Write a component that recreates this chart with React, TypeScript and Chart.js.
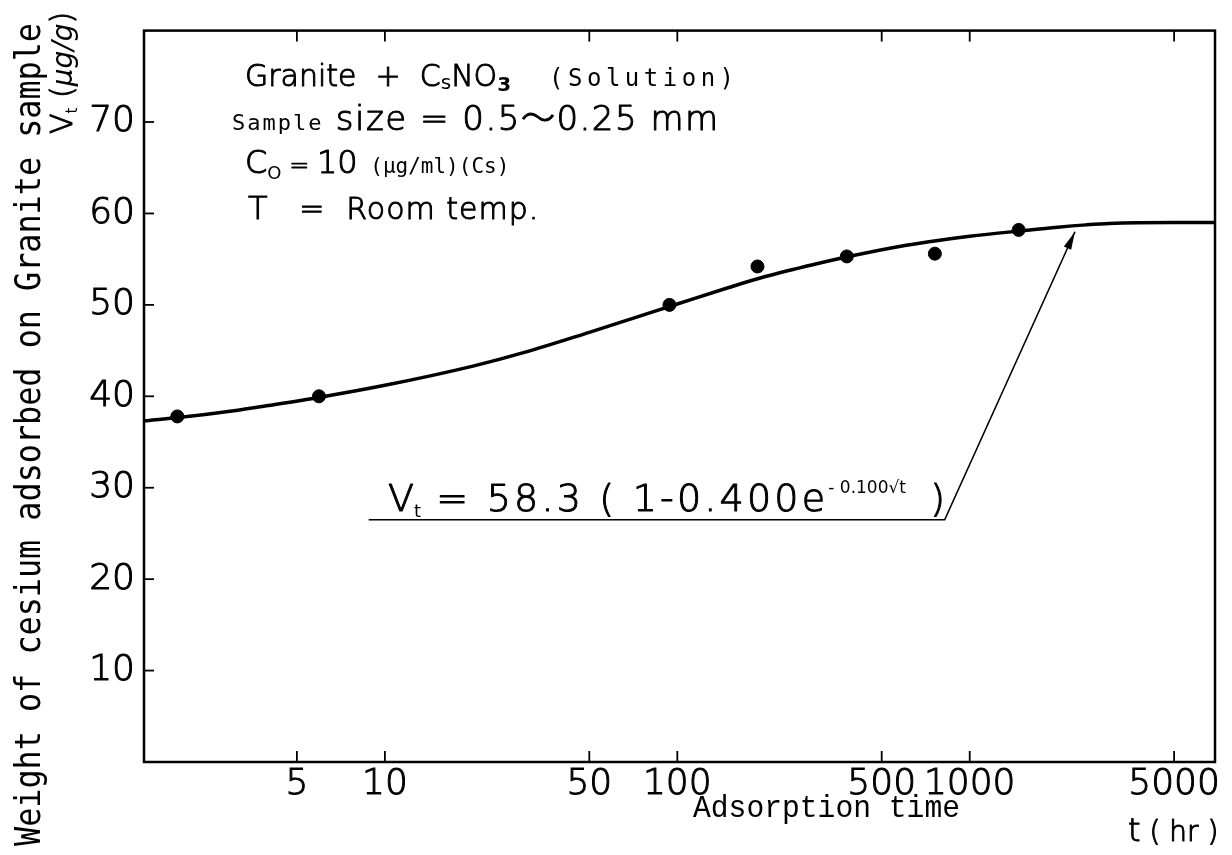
import React, { useEffect, useRef } from "react";
import { Chart, registerables } from "chart.js";
Chart.register(...registerables);

// measured samples (adsorption time in hr, weight in µg/g)
const sampleTimes = [1.95, 5.95, 94, 188, 380, 760, 1470];
const sampleValues = [37.8, 40.0, 50.0, 54.2, 55.3, 55.6, 58.2];

// fitted curve
const curveTimes = [1.5, 2, 3, 4, 6, 10, 20, 30, 50, 70, 100, 150, 200, 300, 400, 600, 800, 1000, 1500, 2000, 2500, 3000, 5000, 6900];
const curveValues = [37.3, 37.7, 38.4, 39.0, 39.9, 41.2, 43.3, 44.8, 47.0, 48.5, 50.1, 51.9, 53.1, 54.5, 55.4, 56.5, 57.1, 57.5, 58.1, 58.5, 58.75, 58.9, 59.0, 59.0];

// leader line from the equation to the curve
const leaderTimes = [8.8, 821, 2290];
const leaderValues = [26.5, 26.5, 58.0];

const xTickValues = [5, 10, 50, 100, 500, 1000, 5000];
const yTickValues = [10, 20, 30, 40, 50, 60, 70];

const X_MIN = 1.5;
const X_MAX = 6900;
const Y_MIN = 0;
const Y_MAX = 80;

const SANS = '"DejaVu Sans", "Noto Sans CJK JP", sans-serif';
const MONO = '"DejaVu Sans Mono", monospace';
const COURIER = '"Liberation Mono", monospace';

type Run = { t: string; f: string; dy?: number; ls?: number; sw?: number };

function drawRuns(ctx: CanvasRenderingContext2D, x: number, y: number, runs: Run[]) {
  let cx = x;
  for (const r of runs) {
    ctx.font = r.f;
    (ctx as any).letterSpacing = (r.ls ?? 0) + "px";
    ctx.fillText(r.t, cx, y + (r.dy ?? 0));
    if (r.sw) {
      ctx.lineWidth = r.sw;
      ctx.strokeText(r.t, cx, y + (r.dy ?? 0));
    }
    cx += ctx.measureText(r.t).width;
  }
  (ctx as any).letterSpacing = "0px";
  return cx;
}

function drawFit(ctx: CanvasRenderingContext2D, text: string, font: string, x: number, y: number, width: number) {
  ctx.font = font;
  const w = ctx.measureText(text).width;
  ctx.save();
  ctx.translate(x, y);
  ctx.scale(width / w, 1);
  ctx.fillText(text, 0, 0);
  ctx.restore();
}

const decor = {
  id: "decor",
  afterDraw(chart: any) {
    const { ctx, chartArea: a, scales } = chart;
    const xs = scales.x;
    const ys = scales.y;
    ctx.save();
    ctx.strokeStyle = "#000";
    ctx.fillStyle = "#000";
    ctx.lineCap = "butt";
    // frame
    ctx.lineWidth = 2.5;
    ctx.strokeRect(a.left, a.top, a.right - a.left, a.bottom - a.top);
    // inward tick marks
    ctx.lineWidth = 1.8;
    const seg = (x1: number, y1: number, x2: number, y2: number) => {
      ctx.beginPath();
      ctx.moveTo(x1, y1);
      ctx.lineTo(x2, y2);
      ctx.stroke();
    };
    for (const v of xTickValues) {
      const px = xs.getPixelForValue(v);
      seg(px, a.bottom, px, a.bottom - 11);
      seg(px, a.top, px, a.top + 11);
    }
    for (const v of yTickValues) {
      const py = ys.getPixelForValue(v);
      seg(a.left, py, a.left + 10, py);
    }

    // arrow head at the end of the leader line
    const meta = chart.getDatasetMeta(2);
    const pts = meta.data;
    if (pts.length >= 2) {
      const p1 = pts[pts.length - 2];
      const p2 = pts[pts.length - 1];
      const ang = Math.atan2(p2.y - p1.y, p2.x - p1.x);
      const L = 18;
      const W = 4;
      ctx.beginPath();
      ctx.moveTo(p2.x, p2.y);
      ctx.lineTo(p2.x - L * Math.cos(ang) + W * Math.sin(ang), p2.y - L * Math.sin(ang) - W * Math.cos(ang));
      ctx.lineTo(p2.x - L * Math.cos(ang) - W * Math.sin(ang), p2.y - L * Math.sin(ang) + W * Math.cos(ang));
      ctx.closePath();
      ctx.fill();
    }

    ctx.textBaseline = "alphabetic";
    ctx.textAlign = "left";
    ctx.lineJoin = "round";

    const L = (s: number) => `200 ${s}px ${SANS}`;
    const M = (s: number) => `400 ${s}px ${MONO}`;

    // annotation block
    drawRuns(ctx, 245, 86, [
      { t: "Granite  +  C", f: L(30), sw: 1 },
      { t: "s", f: `400 20px ${SANS}`, dy: 3 },
      { t: "NO", f: L(30), sw: 1 },
      { t: "3", f: `700 20px ${SANS}`, dy: 5 },
      { t: "  (Solution)", f: M(24), ls: 4.5 },
    ]);
    drawRuns(ctx, 232, 130, [
      { t: "Sample", f: M(22), ls: 2 },
      { t: " size = 0.5〜0.25 mm", f: L(34), ls: 1.5, sw: 1 },
    ]);
    drawRuns(ctx, 245, 173, [
      { t: "C", f: L(32), sw: 1 },
      { t: "O", f: `400 18px ${SANS}`, dy: 6 },
      { t: " = ", f: L(24), sw: 0.8 },
      { t: "10", f: L(32), sw: 1 },
      { t: " (\u00b5g/ml)(Cs)", f: M(21), ls: 0 },
    ]);
    drawRuns(ctx, 248, 219, [
      { t: "T", f: L(32), sw: 1 },
      { t: "   =  Room temp.", f: L(30), ls: 1, sw: 1 },
    ]);

    // equation
    drawRuns(ctx, 388, 511, [
      { t: "V", f: L(38), sw: 1 },
      { t: "t", f: `400 18px ${SANS}`, dy: 6 },
      { t: " = 58.3 ( 1-0.400e", f: L(38), ls: 3.2, sw: 1 },
      { t: "- 0.100\u221at", f: `400 17px ${SANS}`, dy: -18 },
      { t: "  )", f: L(38), sw: 1 },
    ]);

    // y axis titles
    ctx.save();
    ctx.translate(40, 846);
    ctx.rotate(-Math.PI / 2);
    drawFit(ctx, "Weight of cesium adsorbed on Granite sample", M(36), 0, 0, 823);
    ctx.restore();

    ctx.save();
    ctx.translate(72, 134);
    ctx.rotate(-Math.PI / 2);
    drawRuns(ctx, 0, 0, [
      { t: "V", f: L(30), sw: 1 },
      { t: "t", f: `400 15px ${SANS}`, dy: 5 },
      { t: " (", f: L(30), sw: 1 },
      { t: "\u00b5g/g", f: `italic 400 28px ${SANS}` },
      { t: ")", f: L(30), sw: 1 },
    ]);
    ctx.restore();

    // x axis titles
    drawFit(ctx, "Adsorption time", `400 32px ${COURIER}`, 693, 817, 267);
    drawRuns(ctx, 1128, 841, [
      { t: "t", f: L(32), sw: 1 },
      { t: " ( hr )", f: L(28), sw: 1 },
    ]);

    ctx.restore();
  },
};

export default function App() {
  const ref = useRef<HTMLCanvasElement>(null);
  useEffect(() => {
    document.body.style.margin = "0";
    const chart = new Chart(ref.current!, {
      type: "scatter",
      data: {
        datasets: [
          {
            label: "Measured",
            data: sampleTimes.map((t, i) => ({ x: t, y: sampleValues[i] })),
            pointRadius: 6.5,
            pointBackgroundColor: "#000",
            pointBorderColor: "#000",
            showLine: false,
            order: 0,
          },
          {
            label: "Fit",
            data: curveTimes.map((t, i) => ({ x: t, y: curveValues[i] })),
            showLine: true,
            borderColor: "#000",
            borderWidth: 3.5,
            pointRadius: 0,
            cubicInterpolationMode: "monotone",
            order: 1,
          },
          {
            label: "Leader",
            data: leaderTimes.map((t, i) => ({ x: t, y: leaderValues[i] })),
            showLine: true,
            borderColor: "#000",
            borderWidth: 1.6,
            pointRadius: 0,
            tension: 0,
            order: 2,
          },
        ],
      },
      options: {
        animation: false,
        responsive: true,
        maintainAspectRatio: false,
        layout: { padding: { left: 0, top: 22, right: 17, bottom: 0 } },
        plugins: { legend: { display: false }, tooltip: { enabled: false } },
        scales: {
          x: {
            type: "logarithmic",
            min: X_MIN,
            max: X_MAX,
            grid: { display: false, drawTicks: false },
            border: { display: false },
            afterBuildTicks: (s: any) => {
              s.ticks = xTickValues.map((v) => ({ value: v }));
            },
            afterFit: (s: any) => {
              s.height = 855 - 762;
            },
            ticks: {
              autoSkip: false,
              maxRotation: 0,
              padding: 1,
              color: "#000",
              textStrokeColor: "#000",
              textStrokeWidth: 1,
              font: { family: "DejaVu Sans", size: 36, weight: "200" },
              callback: (v: any) => String(v),
            },
          },
          y: {
            type: "linear",
            min: Y_MIN,
            max: Y_MAX,
            grid: { display: false, drawTicks: false },
            border: { display: false },
            afterBuildTicks: (s: any) => {
              s.ticks = yTickValues.map((v) => ({ value: v }));
            },
            afterFit: (s: any) => {
              s.width = 144;
            },
            ticks: {
              padding: 9,
              color: "#000",
              textStrokeColor: "#000",
              textStrokeWidth: 1,
              font: { family: "DejaVu Sans", size: 36, weight: "200" },
              callback: (v: any) => String(v),
            },
          },
        },
      },
      plugins: [decor],
    });
    return () => chart.destroy();
  }, []);
  return (
    <div style={{ position: "relative", width: 1232, height: 855, background: "#fff" }}>
      <canvas ref={ref} />
    </div>
  );
}
